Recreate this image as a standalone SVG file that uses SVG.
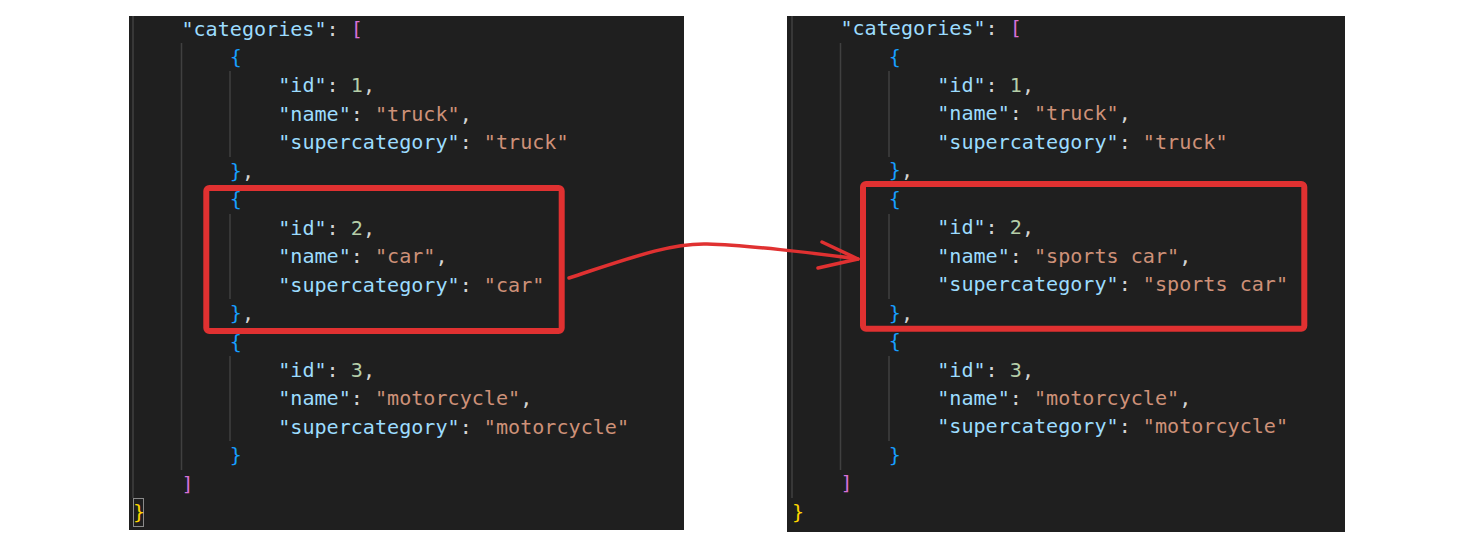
<svg xmlns="http://www.w3.org/2000/svg" width="1463" height="553" viewBox="0 0 1463 553">
<style>
text{font-family:"DejaVu Sans Mono","Liberation Mono",monospace;font-size:20.1px;white-space:pre}
.k{fill:#9CDCFE}.s{fill:#CE9178}.n{fill:#B5CEA8}.p{fill:#D4D4D4}
.b1{fill:#FFD700}.b2{fill:#DA70D6}.b3{fill:#179FFF}
.bg{fill:#1F1F1F}
.guide{stroke:#404040;stroke-width:1.5}
.hl{fill:none;stroke:#E03131;stroke-width:6}
.conn{fill:none;stroke:#E03131;stroke-width:3.5;stroke-linecap:round;stroke-linejoin:round}
</style>
<rect width="1463" height="553" fill="#FFFFFF"/>
<g id="left-panel">
<rect class="bg" x="129" y="16" width="555" height="514"/>
<line class="guide" x1="133" y1="16" x2="133" y2="498"/>
<line class="guide" x1="181.5" y1="43" x2="181.5" y2="470"/>
<line class="guide" x1="230" y1="71" x2="230" y2="157"/>
<line class="guide" x1="230" y1="214" x2="230" y2="299"/>
<line class="guide" x1="230" y1="356" x2="230" y2="441"/>
<rect x="133.5" y="498.5" width="10" height="28" fill="none" stroke="#8A8A8A" stroke-width="1"/>
<text x="181.4" y="35.5"><tspan class="k">"categories"</tspan><tspan class="p">: </tspan><tspan class="b2">[</tspan></text>
<text x="229.8" y="64" class="b3">{</text>
<text x="278.2" y="92.4"><tspan class="k">"id"</tspan><tspan class="p">: </tspan><tspan class="n">1</tspan><tspan class="p">,</tspan></text>
<text x="278.2" y="120.9"><tspan class="k">"name"</tspan><tspan class="p">: </tspan><tspan class="s">"truck"</tspan><tspan class="p">,</tspan></text>
<text x="278.2" y="149.3"><tspan class="k">"supercategory"</tspan><tspan class="p">: </tspan><tspan class="s">"truck"</tspan></text>
<text x="229.8" y="177.8"><tspan class="b3">}</tspan><tspan class="p">,</tspan></text>
<text x="229.8" y="206.2" class="b3">{</text>
<text x="278.2" y="234.7"><tspan class="k">"id"</tspan><tspan class="p">: </tspan><tspan class="n">2</tspan><tspan class="p">,</tspan></text>
<text x="278.2" y="263.1"><tspan class="k">"name"</tspan><tspan class="p">: </tspan><tspan class="s">"car"</tspan><tspan class="p">,</tspan></text>
<text x="278.2" y="291.6"><tspan class="k">"supercategory"</tspan><tspan class="p">: </tspan><tspan class="s">"car"</tspan></text>
<text x="229.8" y="320"><tspan class="b3">}</tspan><tspan class="p">,</tspan></text>
<text x="229.8" y="348.5" class="b3">{</text>
<text x="278.2" y="376.9"><tspan class="k">"id"</tspan><tspan class="p">: </tspan><tspan class="n">3</tspan><tspan class="p">,</tspan></text>
<text x="278.2" y="405.4"><tspan class="k">"name"</tspan><tspan class="p">: </tspan><tspan class="s">"motorcycle"</tspan><tspan class="p">,</tspan></text>
<text x="278.2" y="433.8"><tspan class="k">"supercategory"</tspan><tspan class="p">: </tspan><tspan class="s">"motorcycle"</tspan></text>
<text x="229.8" y="462.3" class="b3">}</text>
<text x="181.4" y="490.7" class="b2">]</text>
<text x="133" y="519.2" class="b1">}</text>
</g>
<g id="right-panel">
<rect class="bg" x="787" y="16" width="558" height="516"/>
<line class="guide" x1="792" y1="16" x2="792" y2="498"/>
<line class="guide" x1="840.5" y1="43" x2="840.5" y2="470"/>
<line class="guide" x1="889" y1="71" x2="889" y2="157"/>
<line class="guide" x1="889" y1="214" x2="889" y2="299"/>
<line class="guide" x1="889" y1="356" x2="889" y2="441"/>
<text x="840.4" y="35"><tspan class="k">"categories"</tspan><tspan class="p">: </tspan><tspan class="b2">[</tspan></text>
<text x="888.8" y="63.5" class="b3">{</text>
<text x="937.2" y="92"><tspan class="k">"id"</tspan><tspan class="p">: </tspan><tspan class="n">1</tspan><tspan class="p">,</tspan></text>
<text x="937.2" y="120.4"><tspan class="k">"name"</tspan><tspan class="p">: </tspan><tspan class="s">"truck"</tspan><tspan class="p">,</tspan></text>
<text x="937.2" y="148.9"><tspan class="k">"supercategory"</tspan><tspan class="p">: </tspan><tspan class="s">"truck"</tspan></text>
<text x="888.8" y="177.3"><tspan class="b3">}</tspan><tspan class="p">,</tspan></text>
<text x="888.8" y="205.8" class="b3">{</text>
<text x="937.2" y="234.2"><tspan class="k">"id"</tspan><tspan class="p">: </tspan><tspan class="n">2</tspan><tspan class="p">,</tspan></text>
<text x="937.2" y="262.7"><tspan class="k">"name"</tspan><tspan class="p">: </tspan><tspan class="s">"sports car"</tspan><tspan class="p">,</tspan></text>
<text x="937.2" y="291.1"><tspan class="k">"supercategory"</tspan><tspan class="p">: </tspan><tspan class="s">"sports car"</tspan></text>
<text x="888.8" y="319.6"><tspan class="b3">}</tspan><tspan class="p">,</tspan></text>
<text x="888.8" y="348" class="b3">{</text>
<text x="937.2" y="376.5"><tspan class="k">"id"</tspan><tspan class="p">: </tspan><tspan class="n">3</tspan><tspan class="p">,</tspan></text>
<text x="937.2" y="404.9"><tspan class="k">"name"</tspan><tspan class="p">: </tspan><tspan class="s">"motorcycle"</tspan><tspan class="p">,</tspan></text>
<text x="937.2" y="433.4"><tspan class="k">"supercategory"</tspan><tspan class="p">: </tspan><tspan class="s">"motorcycle"</tspan></text>
<text x="888.8" y="461.8" class="b3">}</text>
<text x="840.4" y="490.3" class="b2">]</text>
<text x="792" y="518.7" class="b1">}</text>
</g>
<g id="highlight-left">
<rect class="hl" x="206.3" y="188" width="355.4" height="143" rx="3"/>
</g>
<g id="highlight-right">
<rect class="hl" x="863" y="184" width="441.3" height="144.7" rx="3"/>
</g>
<g id="connectors">
<path class="conn" d="M569,278 C630,258 670,243 707,244 S815,253 858,259"/>
<path class="conn" d="M822,242 L858,259 L818,268"/>
</g>
</svg>
